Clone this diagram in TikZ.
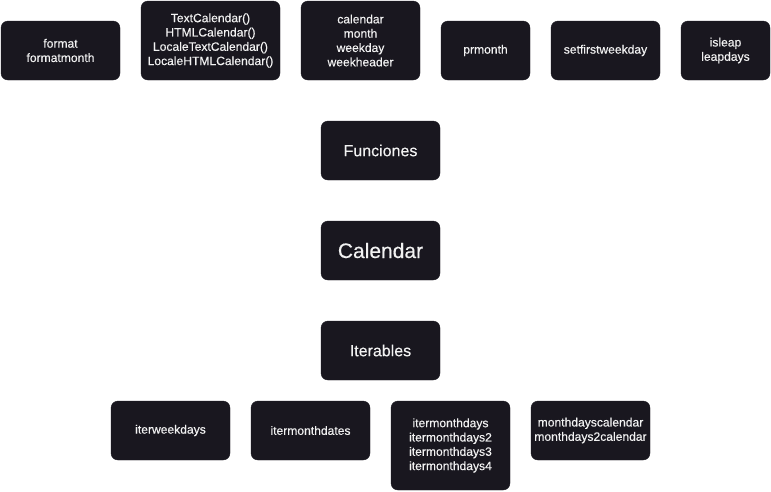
\documentclass[tikz,border=0pt]{standalone}
\usepackage{fontspec}
\setmainfont{Liberation Sans}
\newfontfamily\boxfont[FakeBold=0.25]{Liberation Sans}
\usepackage{xcolor}
\usepackage{tikz}
\usetikzlibrary{positioning}
\definecolor{Night}{HTML}{19171F}
\definecolor{Paper}{HTML}{F2F2F2}
\tikzset{calbox/.style={rounded corners=7pt,fill=Night,draw=Night,text=Paper,align=center,
        inner sep=0pt,font=\boxfont\fontsize{12.1}{14.3}\selectfont}}
\newcommand{\calnode}[6]{%
  \node[calbox,minimum width=#5pt,minimum height=#6pt] (#1) at (#3,#4) {#2};}

\begin{document}
\begin{tikzpicture}[x=1pt,y=-1pt]
    \useasboundingbox (0,0) rectangle (771,491);
    % top row
    \calnode{fmt}{format\\formatmonth}{60.5}{50.5}{119}{59}
    \calnode{cls}{TextCalendar()\\HTMLCalendar()\\LocaleTextCalendar()\\LocaleHTMLCalendar()}{210.5}{40.5}{139}{79}
    \calnode{nam}{calendar\\month\\weekday\\weekheader}{360.5}{40.5}{119}{79}
    \calnode{prm}{prmonth}{485.5}{50.5}{89}{59}
    \calnode{sfw}{setfirstweekday}{605.5}{50.5}{109}{59}
    \calnode{lea}{isleap\\leapdays}{725.5}{50.5}{89}{59}
    % centre column
    \calnode{fun}{\fontsize{16}{19}\selectfont Funciones}{380.5}{150.5}{119}{59}
    \calnode{cal}{\fontsize{21}{25}\selectfont Calendar}{380.5}{250.5}{119}{59}
    \calnode{itr}{\fontsize{16}{19}\selectfont Iterables}{380.5}{350.5}{119}{59}
    % bottom row
    \calnode{iwd}{iterweekdays}{170.5}{430.5}{119}{59}
    \calnode{imd}{itermonthdates}{310.5}{430.5}{119}{59}
    \calnode{imy}{itermonthdays\\itermonthdays2\\itermonthdays3\\itermonthdays4}{450.5}{445.5}{119}{89}
    \calnode{mdc}{monthdayscalendar\\monthdays2calendar}{590.5}{430.5}{119}{59}
  \end{tikzpicture}
\end{document}
